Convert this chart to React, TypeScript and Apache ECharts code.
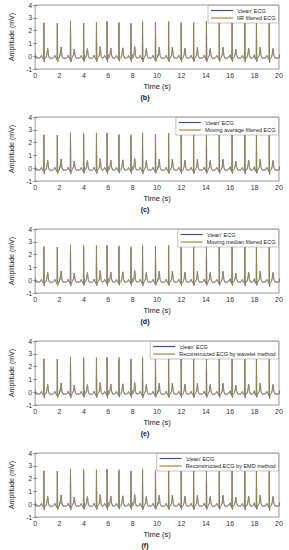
import React, { useEffect, useRef } from "react";
import * as echarts from "echarts";

const CLEAN_NAME = "'clean' ECG";
const FILTER_NAMES = [
  "IIR filtered ECG",
  "Moving average filtered ECG",
  "Moving median filtered ECG",
  "Reconstructed ECG by wavelet method",
  "Reconstructed ECG by EMD method",
];
const PANEL_LABELS = ["(b)", "(c)", "(d)", "(e)", "(f)"];

const X_MIN = 0;
const X_MAX = 20;
const X_STEP = 2;
const Y_MIN = -1;
const Y_MAX = 4;
const Y_STEP = 1;

// R-peak times (s)
const BEAT_TIMES = [0.72, 1.82, 2.9, 3.98, 5.03, 5.9, 6.88, 7.86, 8.81, 9.87, 10.95, 11.98, 13.0, 14.05, 15.1, 16.15, 17.2, 18.15, 19.2];
// R-peak amplitudes (mV) of the clean ECG
const CLEAN_R = [2.62, 2.57, 2.75, 2.6, 2.65, 2.72, 2.62, 2.57, 2.72, 2.62, 2.7, 2.62, 2.62, 2.75, 2.7, 2.62, 2.7, 2.6, 2.7];
// T-wave amplitudes (mV)
const CLEAN_T = [0.62, 0.72, 0.55, 0.6, 0.75, 0.62, 0.65, 0.75, 0.6, 0.7, 0.72, 0.62, 0.68, 0.6, 0.7, 0.55, 0.62, 0.7, 0.6];
// S-wave depth (mV)
const CLEAN_S = [-0.45, -0.42, -0.45, -0.4, -0.42, -0.45, -0.4, -0.42, -0.45, -0.4, -0.42, -0.4, -0.45, -0.42, -0.4, -0.42, -0.45, -0.4, -0.5];

// filtered R-peak amplitudes per panel
const FILTERED_R_B = [2.6, 2.57, 2.74, 2.6, 2.64, 2.72, 2.62, 2.56, 2.72, 2.62, 2.7, 2.6, 2.62, 2.75, 2.7, 2.62, 2.7, 2.58, 2.7];
const FILTERED_R_C = [2.6, 2.6, 2.8, 2.76, 2.76, 2.76, 2.62, 2.62, 2.76, 2.6, 2.75, 2.62, 2.7, 2.76, 2.72, 2.62, 2.7, 2.6, 2.75];
const FILTERED_R_D = [2.62, 2.6, 2.76, 2.75, 2.75, 2.72, 2.7, 2.62, 2.72, 2.62, 2.72, 2.62, 2.65, 2.75, 2.7, 2.62, 2.7, 2.6, 2.72];
const FILTERED_R_E = [2.6, 2.6, 2.72, 2.72, 2.72, 2.72, 2.75, 2.6, 2.72, 2.62, 2.7, 2.62, 2.62, 2.75, 2.7, 2.6, 2.72, 2.6, 2.72];
const FILTERED_R_F = [2.6, 2.6, 2.74, 2.74, 2.7, 2.74, 2.72, 2.6, 2.72, 2.62, 2.7, 2.62, 2.65, 2.75, 2.7, 2.6, 2.72, 2.6, 2.72];
const FILTERED_R = [FILTERED_R_B, FILTERED_R_C, FILTERED_R_D, FILTERED_R_E, FILTERED_R_F];
// filtered S-wave depth per panel
const FILTERED_S = [-0.42, -0.36, -0.38, -0.35, -0.37];

// one heartbeat: offsets from the R peak (s) and values (mV)
const SHAPE_OFFSETS = [-0.34, -0.26, -0.2, -0.14, -0.05, -0.02, 0, 0.03, 0.06, 0.16, 0.24, 0.31, 0.38, 0.46];
const SHAPE_VALUES = [-0.15, -0.06, 0.06, -0.12, -0.15, -0.28, null, null, -0.2, -0.1, 0.1, null, 0.04, -0.15];
const R_INDEX = 6;
const S_INDEX = 7;
const T_INDEX = 11;
const START_VALUE = -0.12;
const END_VALUE = -0.15;

function buildTrace(rArr: number[], tArr: number[], sArr: number[]) {
  const pts: number[][] = [[X_MIN, START_VALUE]];
  BEAT_TIMES.forEach((bt, b) => {
    SHAPE_OFFSETS.forEach((off, k) => {
      let v = SHAPE_VALUES[k] as number;
      if (k === R_INDEX) v = rArr[b];
      if (k === S_INDEX) v = sArr[b];
      if (k === T_INDEX) v = tArr[b];
      pts.push([+(bt + off).toFixed(3), v]);
    });
  });
  pts.push([X_MAX, END_VALUE]);
  return pts;
}

const CLEAN_COLOR = "#3f4f9e";
const FILT_COLOR = "#a3883a";
const FONT = "'Liberation Sans', Arial, sans-serif";

export default function App() {
  const ref = useRef<HTMLDivElement>(null);
  useEffect(() => {
    if (!ref.current) return;
    const chart = echarts.init(ref.current, null, { renderer: "svg" });
    const panelTop = [5, 117, 229, 341, 453];
    const gridLeft = 21;
    const gridWidth = 258;
    const gridHeight = 64;
    const grids: any[] = [];
    const xAxes: any[] = [];
    const yAxes: any[] = [];
    const series: any[] = [];
    const legends: any[] = [];
    const graphics: any[] = [];
    panelTop.forEach((top, i) => {
      grids.push({
        left: gridLeft,
        top,
        width: gridWidth,
        height: gridHeight,
        show: true,
        borderColor: "#555",
        borderWidth: 0.6,
        backgroundColor: "#fff",
      });
      const tick = { show: true, inside: true, length: 2, lineStyle: { color: "#555", width: 0.6 } };
      xAxes.push({
        type: "value",
        gridIndex: i,
        min: X_MIN,
        max: X_MAX,
        interval: X_STEP,
        axisLine: { show: false },
        axisTick: tick,
        splitLine: { show: false },
        axisLabel: { fontSize: 7, color: "#333", margin: 3, fontFamily: FONT },
        name: "Time (s)",
        nameLocation: "middle",
        nameGap: 13,
        nameTextStyle: { fontSize: 7.5, color: "#222", fontFamily: FONT },
      });
      xAxes.push({
        type: "value",
        gridIndex: i,
        position: "top",
        min: X_MIN,
        max: X_MAX,
        interval: X_STEP,
        axisLine: { show: false },
        axisTick: tick,
        splitLine: { show: false },
        axisLabel: { show: false },
      });
      yAxes.push({
        type: "value",
        gridIndex: i,
        min: Y_MIN,
        max: Y_MAX,
        interval: Y_STEP,
        axisLine: { show: false },
        axisTick: tick,
        splitLine: { show: false },
        axisLabel: { fontSize: 7, color: "#333", margin: 3, fontFamily: FONT },
        name: "Amplitude (mV)",
        nameLocation: "middle",
        nameGap: 9,
        nameTextStyle: { fontSize: 7, color: "#222", fontFamily: FONT },
      });
      yAxes.push({
        type: "value",
        gridIndex: i,
        position: "right",
        min: Y_MIN,
        max: Y_MAX,
        interval: Y_STEP,
        axisLine: { show: false },
        axisTick: tick,
        splitLine: { show: false },
        axisLabel: { show: false },
      });
      series.push({
        type: "line",
        name: CLEAN_NAME,
        xAxisIndex: 2 * i,
        yAxisIndex: 2 * i,
        data: buildTrace(CLEAN_R, CLEAN_T, CLEAN_S),
        symbol: "none",
        lineStyle: { color: CLEAN_COLOR, width: 0.7 },
        itemStyle: { color: CLEAN_COLOR },
        clip: true,
      });
      series.push({
        type: "line",
        name: FILTER_NAMES[i],
        xAxisIndex: 2 * i,
        yAxisIndex: 2 * i,
        data: buildTrace(FILTERED_R[i], CLEAN_T, CLEAN_S.map(() => FILTERED_S[i])),
        symbol: "none",
        lineStyle: { color: FILT_COLOR, width: 0.7 },
        itemStyle: { color: FILT_COLOR },
        clip: true,
      });
      legends.push({
        top: top + 0.5,
        right: 10.5,
        orient: "vertical",
        data: [CLEAN_NAME, FILTER_NAMES[i]],
        icon: "rect",
        itemWidth: 22,
        itemHeight: 1.2,
        itemGap: 1.5,
        padding: [2, 3, 2, 3],
        backgroundColor: "#fff",
        borderColor: "#888",
        borderWidth: 0.5,
        selectedMode: false,
        textStyle: { fontSize: 5.5, color: "#222", fontFamily: FONT, padding: [0, 0, 0, -1] },
      });
      graphics.push({
        type: "text",
        x: 145,
        y: top + 92,
        style: {
          text: PANEL_LABELS[i],
          textAlign: "center",
          textVerticalAlign: "middle",
          font: `bold 7px ${FONT}`,
          fill: "#111",
        },
      });
    });
    chart.setOption({
      animation: false,
      backgroundColor: "#fff",
      textStyle: { fontFamily: FONT },
      grid: grids,
      xAxis: xAxes,
      yAxis: yAxes,
      series,
      legend: legends,
      graphic: graphics,
    });
    return () => chart.dispose();
  }, []);
  return (
    <div
      ref={ref}
      style={{ position: "fixed", left: 0, top: 0, width: 289, height: 550, background: "#fff" }}
    />
  );
}
